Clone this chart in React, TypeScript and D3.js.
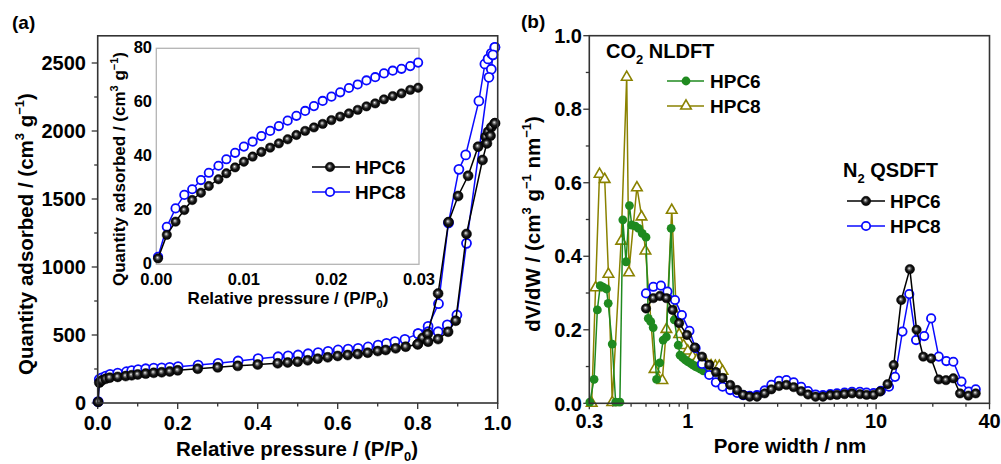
import React from 'react'
import * as d3 from 'd3'

const FONT = '"Liberation Sans", Arial, Helvetica, sans-serif'

// ---- (a) N2 isotherms, [P/P0, quantity adsorbed]
const hpc6Ads: number[][] = [
  [0.001, 8], [0.004, 150], [0.01, 165], [0.02, 178], [0.03, 186], [0.05, 192], [0.07, 198], [0.085, 204],
  [0.1, 210], [0.12, 216], [0.14, 222], [0.16, 226], [0.18, 232], [0.2, 240], [0.25, 252], [0.3, 262],
  [0.35, 273], [0.4, 283], [0.45, 292], [0.475, 298], [0.5, 304], [0.525, 314], [0.55, 326], [0.575, 336],
  [0.6, 346], [0.625, 353], [0.65, 360], [0.675, 370], [0.7, 382], [0.72, 390], [0.745, 402], [0.77, 414],
  [0.8, 432], [0.812, 478], [0.825, 508], [0.851, 805], [0.877, 1330], [0.901, 1522], [0.926, 1671],
  [0.951, 1885], [0.97, 1958], [0.976, 1995], [0.984, 2027], [0.993, 2057],
]
const hpc6Des: number[][] = [
  [0.993, 2057], [0.982, 1965], [0.973, 1909], [0.962, 1787], [0.922, 1243], [0.895, 605], [0.876, 524],
  [0.851, 470], [0.826, 451], [0.8, 432],
]
const hpc8Ads: number[][] = [
  [0.001, 10], [0.004, 175], [0.01, 185], [0.02, 198], [0.031, 210], [0.05, 220], [0.072, 230], [0.085, 238],
  [0.101, 246], [0.12, 252], [0.14, 256], [0.16, 258], [0.18, 262], [0.201, 267], [0.251, 279], [0.301, 292],
  [0.351, 309], [0.401, 326], [0.451, 340], [0.476, 347], [0.501, 353], [0.526, 362], [0.551, 370], [0.576, 380],
  [0.601, 390], [0.626, 396], [0.651, 402], [0.676, 412], [0.701, 426], [0.722, 438], [0.743, 451], [0.768, 468],
  [0.801, 510], [0.826, 563], [0.852, 730], [0.877, 1324], [0.903, 1718], [0.92, 1824], [0.953, 2221],
  [0.968, 2493], [0.976, 2530], [0.984, 2571], [0.993, 2615],
]
const hpc8Des: number[][] = [
  [0.993, 2615], [0.988, 2560], [0.984, 2454], [0.978, 2395], [0.922, 1174], [0.898, 647], [0.874, 574],
  [0.851, 524], [0.826, 524], [0.801, 510],
]

// ---- (a) inset, low pressure
const insetP = [
  0.0002, 0.0012, 0.0022, 0.0032, 0.0041, 0.0051, 0.006, 0.0071, 0.008, 0.009, 0.01, 0.011, 0.012, 0.013,
  0.014, 0.015, 0.016, 0.017, 0.018, 0.019, 0.02, 0.021, 0.022, 0.023, 0.024, 0.025, 0.026, 0.027, 0.028,
  0.029, 0.0299,
]
const insetHpc6 = [
  2.2, 10.9, 15.8, 20.1, 23.8, 26.5, 29.0, 31.5, 33.7, 35.9, 38.0, 39.9, 41.6, 43.2, 44.8, 46.3, 47.9, 49.4,
  50.7, 52.0, 53.4, 54.7, 55.9, 57.2, 58.5, 59.6, 61.1, 62.3, 63.3, 64.6, 65.4,
]
const insetHpc8 = [
  2.8, 13.9, 20.7, 25.7, 27.8, 31.2, 33.9, 36.5, 38.9, 41.3, 43.6, 45.4, 47.5, 49.4, 51.2, 53.2, 55.0, 56.8,
  58.6, 60.5, 62.1, 63.7, 65.3, 66.6, 68.1, 69.3, 70.7, 71.7, 72.4, 73.4, 74.7,
]

// ---- (b) pore size distributions, [pore width nm, dV/dW]
const co2Hpc6: number[][] = [
  [0.302, 0.003], [0.318, 0.065], [0.331, 0.254], [0.343, 0.32], [0.355, 0.316], [0.37, 0.311], [0.378, 0.272],
  [0.397, 0.161], [0.414, 0.003], [0.436, 0.003], [0.452, 0.499], [0.47, 0.385], [0.49, 0.538], [0.504, 0.485],
  [0.527, 0.482], [0.548, 0.476], [0.573, 0.462], [0.6, 0.452], [0.617, 0.231], [0.636, 0.222], [0.655, 0.206],
  [0.683, 0.065], [0.71, 0.11], [0.74, 0.172], [0.77, 0.181], [0.816, 0.476], [0.848, 0.227], [0.89, 0.158],
  [0.91, 0.131], [0.94, 0.124], [0.97, 0.118], [1.0, 0.113], [1.04, 0.108], [1.07, 0.104], [1.1, 0.1],
  [1.13, 0.097], [1.17, 0.093], [1.21, 0.088],
]
const co2Hpc8: number[][] = [
  [0.309, 0.003], [0.324, 0.317], [0.34, 0.626], [0.362, 0.612], [0.379, 0.354], [0.397, 0.005], [0.443, 0.444],
  [0.474, 0.89], [0.487, 0.358], [0.537, 0.589], [0.568, 0.51], [0.596, 0.417], [0.666, 0.095], [0.733, 0.065],
  [0.77, 0.204], [0.822, 0.528], [0.87, 0.24], [0.9, 0.19], [0.95, 0.16], [1.0, 0.145], [1.06, 0.13],
  [1.12, 0.122], [1.19, 0.115], [1.26, 0.109], [1.33, 0.105], [1.4, 0.104], [1.47, 0.104], [1.53, 0.09],
]
const n2Hpc6: number[][] = [
  [0.6, 0.258], [0.656, 0.286], [0.711, 0.292], [0.77, 0.286], [0.83, 0.254], [0.9, 0.218], [0.99, 0.186],
  [1.09, 0.152], [1.19, 0.127], [1.3, 0.105], [1.41, 0.085], [1.53, 0.069], [1.68, 0.05], [1.83, 0.036],
  [1.97, 0.023], [2.13, 0.018], [2.33, 0.018], [2.56, 0.027], [2.78, 0.038], [3.05, 0.047], [3.34, 0.05],
  [3.65, 0.044], [4.0, 0.033], [4.35, 0.024], [4.77, 0.018], [5.22, 0.018], [5.71, 0.022], [6.2, 0.023],
  [6.8, 0.025], [7.45, 0.027], [8.2, 0.025], [8.9, 0.023], [9.7, 0.023], [10.5, 0.032], [11.5, 0.052],
  [12.4, 0.104], [13.6, 0.281], [15.1, 0.365], [16.4, 0.2], [17.8, 0.127], [19.6, 0.122], [21.5, 0.065],
  [23.5, 0.063], [25.7, 0.068], [27.9, 0.027], [30.9, 0.021], [33.8, 0.027],
]
const n2Hpc8: number[][] = [
  [0.6, 0.299], [0.656, 0.317], [0.72, 0.32], [0.78, 0.304], [0.855, 0.281], [0.93, 0.24], [1.02, 0.197],
  [1.1, 0.15], [1.19, 0.107], [1.3, 0.077], [1.41, 0.057], [1.53, 0.045], [1.68, 0.036], [1.83, 0.028],
  [1.97, 0.022], [2.13, 0.02], [2.33, 0.022], [2.56, 0.035], [2.78, 0.05], [3.05, 0.061], [3.34, 0.063],
  [3.65, 0.057], [4.0, 0.045], [4.35, 0.033], [4.77, 0.024], [5.22, 0.022], [5.71, 0.025], [6.2, 0.027],
  [6.8, 0.029], [7.45, 0.031], [8.2, 0.031], [8.9, 0.029], [9.7, 0.028], [10.6, 0.034], [11.7, 0.045],
  [12.6, 0.072], [13.8, 0.195], [15.0, 0.297], [16.3, 0.172], [18.0, 0.183], [19.6, 0.231], [21.5, 0.127],
  [23.6, 0.115], [25.7, 0.113], [28.4, 0.059], [31.0, 0.032], [33.8, 0.038],
]

// ticks
const aXTicks = [0, 0.2, 0.4, 0.6, 0.8, 1.0]
const aYTicks = [0, 500, 1000, 1500, 2000, 2500]
const inXTicks = [0, 0.01, 0.02, 0.03]
const inYTicks = [0, 20, 40, 60, 80]
const bXTicks = [0.3, 1, 10, 40]
const bYTicks = [0, 0.2, 0.4, 0.6, 0.8, 1.0]

const BLUE = '#0a0aff'
const GREEN = '#1f8a1f'
const OLIVE = '#8a8200'
const FRAME = '#333'

const xA = d3.scaleLinear().domain([0, 1]).range([97.7, 497.7])
const yA = d3.scaleLinear().domain([0, 2700]).range([403, 35.8])
const xI = d3.scaleLinear().domain([0, 0.03]).range([156.3, 419])
const yI = d3.scaleLinear().domain([0, 80]).range([264.3, 48.3])
const xB = d3.scaleLog().domain([0.3, 40]).range([589.3, 989.5])
const yB = d3.scaleLinear().domain([0, 1]).range([403.3, 35.7])

type Sc = (v: number) => number
const path = (pts: number[][], x: Sc, y: Sc) =>
  d3.line<number[]>().x((d) => x(d[0])).y((d) => y(d[1]))(pts) || ''

const tri = d3.symbol(d3.symbolTriangle, 48)() || ''

const Sphere = ({ cx, cy, r = 4.7 }: { cx: number; cy: number; r?: number }) => (
  <circle cx={cx} cy={cy} r={r} fill='url(#sph)' stroke='#000' strokeWidth={0.5} />
)
const Open = ({ cx, cy, r = 4.2 }: { cx: number; cy: number; r?: number }) => (
  <circle cx={cx} cy={cy} r={r} fill='#fff' stroke={BLUE} strokeWidth={1.8} />
)
const Dot = ({ cx, cy }: { cx: number; cy: number }) => <circle cx={cx} cy={cy} r={4.4} fill={GREEN} />
const Tri = ({ cx, cy }: { cx: number; cy: number }) => (
  <path d={tri} transform={`translate(${cx},${cy + 1})`} fill='#fff' stroke={OLIVE} strokeWidth={1.6} />
)

const Series = ({ pts, x, y, color, Mark }: any) => (
  <g>
    <path d={path(pts, x, y)} fill='none' stroke={color} strokeWidth={1.5} />
    {pts.map((d: number[], i: number) => (
      <Mark key={i} cx={x(d[0])} cy={y(d[1])} />
    ))}
  </g>
)

const App = () => {
  const aMinorX = d3.range(0.1, 1, 0.2)
  const aMinorY = d3.range(250, 2700, 500)
  const bMinorX = [0.4, 0.5, 0.6, 0.7, 0.8, 0.9, 2, 3, 4, 5, 6, 7, 8, 9, 20, 30]
  const bMinorY = d3.range(0.1, 1, 0.2)
  const txt = { fontFamily: FONT, fontWeight: 'bold' as const, fill: '#000' }

  return (
    <svg width={1001} height={464} style={{ position: 'absolute', left: 0, top: 0, background: '#fff' }}>
      <defs>
        <radialGradient id='sph' cx='50%' cy='50%' r='50%' fx='42%' fy='40%'>
          <stop offset='0%' stopColor='#ffffff' />
          <stop offset='22%' stopColor='#8a8a8a' />
          <stop offset='55%' stopColor='#1a1a1a' />
          <stop offset='100%' stopColor='#000' />
        </radialGradient>
      </defs>
      <rect width={1001} height={464} fill='#fff' />

      {/* ===== panel (a) ===== */}
      <text x={12} y={29} fontSize={19} {...txt}>(a)</text>
      <g stroke={FRAME} strokeWidth={1.3}>
        {aXTicks.map((t) => <line key={t} x1={xA(t)} x2={xA(t)} y1={403} y2={409} />)}
        {aMinorX.map((t) => <line key={t} x1={xA(t)} x2={xA(t)} y1={403} y2={406.5} />)}
        {aYTicks.map((t) => <line key={t} x1={91.7} x2={97.7} y1={yA(t)} y2={yA(t)} />)}
        {aMinorY.map((t) => <line key={t} x1={94.2} x2={97.7} y1={yA(t)} y2={yA(t)} />)}
      </g>
      {aXTicks.map((t) => (
        <text key={t} x={xA(t)} y={430} fontSize={20} textAnchor='middle' {...txt}>{t.toFixed(1)}</text>
      ))}
      {aYTicks.map((t) => (
        <text key={t} x={86} y={yA(t)} dy='0.36em' fontSize={20} textAnchor='end' {...txt}>{t}</text>
      ))}
      <text x={297} y={456} fontSize={20.5} textAnchor='middle' {...txt}>
        Relative pressure / (P/P<tspan fontSize={13} dy={5}>0</tspan><tspan dy={-5}>)</tspan>
      </text>
      <text transform='translate(33,234) rotate(-90)' fontSize={20.5} textAnchor='middle' {...txt}>
        Quantity adsorbed / (cm<tspan fontSize={13} dy={-9}>3</tspan>
        <tspan dy={9}> g</tspan><tspan fontSize={13} dy={-9}>−1</tspan><tspan dy={9}>)</tspan>
      </text>

      <g>
        <Series pts={hpc8Ads} x={xA} y={yA} color={BLUE} Mark={(p: any) => <Open {...p} r={4.5} />} />
        <Series pts={hpc8Des} x={xA} y={yA} color={BLUE} Mark={(p: any) => <Open {...p} r={4.5} />} />
        <Series pts={hpc6Ads} x={xA} y={yA} color='#000' Mark={(p: any) => <Sphere {...p} r={5} />} />
        <Series pts={hpc6Des} x={xA} y={yA} color='#000' Mark={(p: any) => <Sphere {...p} r={5} />} />
      </g>
      <rect x={97.7} y={35.8} width={400} height={367.2} fill='none' stroke={FRAME} strokeWidth={1.6} />

      {/* inset */}
      <rect x={156.3} y={48.3} width={262.7} height={216} fill='#fff' stroke='#b4b4b4' strokeWidth={1.3} />
      {inXTicks.map((t) => (
        <text key={t} x={xI(t)} y={285} fontSize={16.5} textAnchor='middle' {...txt}>{t.toFixed(2)}</text>
      ))}
      {inYTicks.map((t) => (
        <text key={t} x={152} y={yI(t) - 1} dy='0.36em' fontSize={16.5} textAnchor='end' {...txt}>{t}</text>
      ))}
      <text x={288} y={304} fontSize={17} textAnchor='middle' {...txt}>
        Relative pressure / (P/P<tspan fontSize={11} dy={4}>0</tspan><tspan dy={-4}>)</tspan>
      </text>
      <text transform='translate(125,169) rotate(-90)' fontSize={17} textAnchor='middle' {...txt}>
        Quantity adsorbed / (cm<tspan fontSize={11} dy={-7}>3</tspan>
        <tspan dy={7}> g</tspan><tspan fontSize={11} dy={-7}>−1</tspan><tspan dy={7}>)</tspan>
      </text>
      <Series pts={insetP.map((p, i) => [p, insetHpc8[i]])} x={xI} y={yI} color={BLUE} Mark={Open} />
      <Series pts={insetP.map((p, i) => [p, insetHpc6[i]])} x={xI} y={yI} color='#000' Mark={Sphere} />
      <g>
        <line x1={312} x2={350} y1={167} y2={167} stroke='#000' strokeWidth={1.5} />
        <Sphere cx={330} cy={167} />
        <text x={355} y={174} fontSize={19} {...txt}>HPC6</text>
        <line x1={312} x2={350} y1={192} y2={192} stroke={BLUE} strokeWidth={1.5} />
        <Open cx={330} cy={192} />
        <text x={355} y={199} fontSize={19} {...txt}>HPC8</text>
      </g>

      {/* ===== panel (b) ===== */}
      <text x={521} y={28} fontSize={19} {...txt}>(b)</text>
      <g stroke={FRAME} strokeWidth={1.3}>
        {bXTicks.map((t) => <line key={t} x1={xB(t)} x2={xB(t)} y1={403.3} y2={409.3} />)}
        {bMinorX.map((t) => <line key={t} x1={xB(t)} x2={xB(t)} y1={403.3} y2={406.8} />)}
        {bYTicks.map((t) => <line key={t} x1={583.3} x2={589.3} y1={yB(t)} y2={yB(t)} />)}
        {bMinorY.map((t) => <line key={t} x1={585.8} x2={589.3} y1={yB(t)} y2={yB(t)} />)}
      </g>
      {bXTicks.map((t) => (
        <text key={t} x={xB(t)} y={428} fontSize={20} textAnchor='middle' {...txt}>{t}</text>
      ))}
      {bYTicks.map((t) => (
        <text key={t} x={582} y={yB(t)} dy='0.36em' fontSize={20} textAnchor='end' {...txt}>{t.toFixed(1)}</text>
      ))}
      <text x={790} y={453} fontSize={20.5} textAnchor='middle' {...txt}>Pore width / nm</text>
      <text transform='translate(540,224) rotate(-90)' fontSize={20.5} textAnchor='middle' {...txt}>
        dV/dW / (cm<tspan fontSize={13} dy={-9}>3</tspan>
        <tspan dy={9}> g</tspan><tspan fontSize={13} dy={-9}>−1</tspan>
        <tspan dy={9}> nm</tspan><tspan fontSize={13} dy={-9}>−1</tspan><tspan dy={9}>)</tspan>
      </text>

      <Series pts={co2Hpc8} x={xB} y={yB} color={OLIVE} Mark={Tri} />
      <Series pts={co2Hpc6} x={xB} y={yB} color={GREEN} Mark={Dot} />
      <Series pts={n2Hpc8} x={xB} y={yB} color={BLUE} Mark={Open} />
      <Series pts={n2Hpc6} x={xB} y={yB} color='#000' Mark={Sphere} />
      <rect x={589.3} y={35.7} width={400.2} height={367.6} fill='none' stroke={FRAME} strokeWidth={1.6} />

      <text x={606} y={58} fontSize={20} {...txt}>
        CO<tspan fontSize={13} dy={6}>2</tspan><tspan dy={-6}> NLDFT</tspan>
      </text>
      <line x1={667} x2={704} y1={81} y2={81} stroke={GREEN} strokeWidth={1.5} />
      <Dot cx={686} cy={81} />
      <text x={710} y={88} fontSize={19} {...txt}>HPC6</text>
      <line x1={667} x2={704} y1={106} y2={106} stroke={OLIVE} strokeWidth={1.5} />
      <Tri cx={686} cy={105} />
      <text x={710} y={113} fontSize={19} {...txt}>HPC8</text>

      <text x={843} y={177} fontSize={20} {...txt}>
        N<tspan fontSize={13} dy={6}>2</tspan><tspan dy={-6}> QSDFT</tspan>
      </text>
      <line x1={847} x2={885} y1={201} y2={201} stroke='#000' strokeWidth={1.5} />
      <Sphere cx={866} cy={201} />
      <text x={890} y={208} fontSize={19} {...txt}>HPC6</text>
      <line x1={847} x2={885} y1={226} y2={226} stroke={BLUE} strokeWidth={1.5} />
      <Open cx={866} cy={226} />
      <text x={890} y={233} fontSize={19} {...txt}>HPC8</text>
    </svg>
  )
}

export default App
